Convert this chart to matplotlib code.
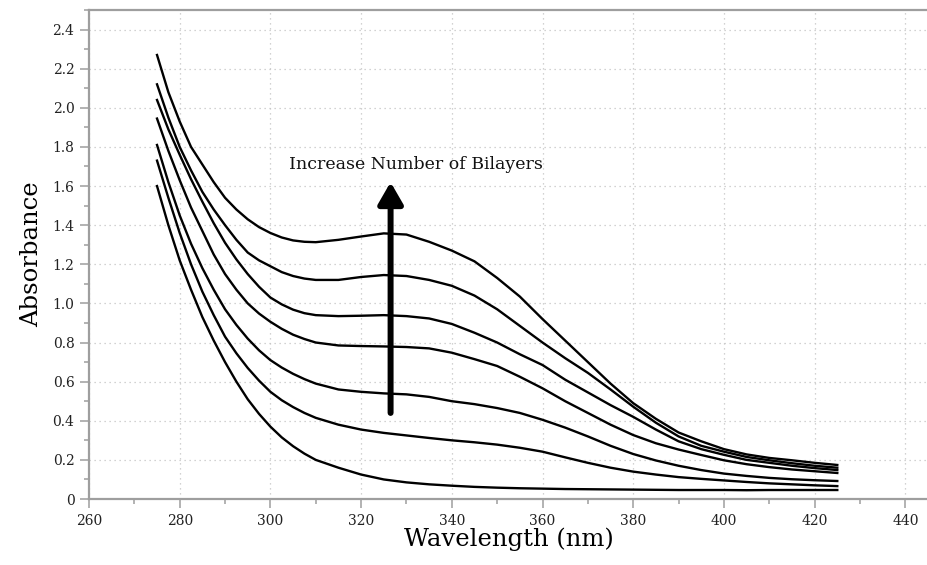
import matplotlib
matplotlib.use("Agg")
import matplotlib.pyplot as plt
from matplotlib.ticker import MultipleLocator, FuncFormatter

# absorbance spectra, one per bilayer count (1 -> 7)
# finer steps on the steep short-wavelength edge
wavelength = [275, 277.5, 280, 282.5, 285, 287.5, 290, 292.5, 295, 297.5, 300, 302.5, 305, 307.5, 310,
              315, 320, 325, 330, 335, 340, 345, 350, 355, 360, 365, 370, 375, 380, 385, 390,
              395, 400, 405, 410, 415, 420, 425]

abs_1 = [1.60, 1.40, 1.22, 1.07, 0.93, 0.81, 0.70, 0.60, 0.51, 0.435, 0.37, 0.315, 0.27, 0.232, 0.20,
         0.16, 0.125, 0.100, 0.085, 0.075, 0.068, 0.062, 0.058, 0.055, 0.053, 0.051, 0.050, 0.049, 0.048, 0.047, 0.046,
         0.046, 0.046, 0.045, 0.046, 0.046, 0.046, 0.046]
abs_2 = [1.73, 1.54, 1.36, 1.20, 1.06, 0.94, 0.83, 0.745, 0.67, 0.605, 0.548, 0.505, 0.47, 0.44, 0.415,
         0.38, 0.355, 0.338, 0.325, 0.312, 0.300, 0.290, 0.278, 0.262, 0.242, 0.213, 0.185, 0.160, 0.140, 0.125, 0.112,
         0.103, 0.095, 0.087, 0.080, 0.075, 0.070, 0.066]
abs_3 = [1.81, 1.62, 1.45, 1.305, 1.18, 1.07, 0.97, 0.89, 0.82, 0.76, 0.71, 0.672, 0.64, 0.613, 0.59,
         0.56, 0.548, 0.540, 0.535, 0.522, 0.500, 0.485, 0.465, 0.440, 0.405, 0.365, 0.320, 0.272, 0.230, 0.197, 0.170,
         0.148, 0.130, 0.118, 0.108, 0.101, 0.096, 0.092]
abs_4 = [1.945, 1.78, 1.63, 1.49, 1.37, 1.25, 1.15, 1.07, 1.00, 0.948, 0.906, 0.87, 0.84, 0.818, 0.80,
         0.785, 0.782, 0.780, 0.777, 0.770, 0.748, 0.715, 0.680, 0.625, 0.566, 0.500, 0.440, 0.380, 0.327, 0.285, 0.253,
         0.225, 0.198, 0.178, 0.163, 0.151, 0.142, 0.133]
abs_5 = [2.04, 1.89, 1.76, 1.635, 1.52, 1.41, 1.31, 1.225, 1.15, 1.085, 1.03, 0.995, 0.968, 0.95, 0.94,
         0.935, 0.937, 0.940, 0.935, 0.923, 0.895, 0.850, 0.800, 0.740, 0.685, 0.610, 0.545, 0.480, 0.420, 0.355, 0.295,
         0.255, 0.226, 0.200, 0.185, 0.170, 0.158, 0.148]
abs_6 = [2.12, 1.95, 1.80, 1.68, 1.57, 1.48, 1.40, 1.325, 1.26, 1.22, 1.19, 1.16, 1.14, 1.127, 1.12,
         1.12, 1.135, 1.145, 1.140, 1.120, 1.090, 1.040, 0.970, 0.885, 0.800, 0.720, 0.645, 0.560, 0.472, 0.390, 0.320,
         0.272, 0.242, 0.215, 0.198, 0.183, 0.170, 0.160]
abs_7 = [2.27, 2.08, 1.93, 1.80, 1.71, 1.62, 1.54, 1.48, 1.43, 1.39, 1.36, 1.337, 1.322, 1.315, 1.313,
         1.325, 1.342, 1.358, 1.352, 1.315, 1.270, 1.215, 1.130, 1.035, 0.920, 0.810, 0.700, 0.590, 0.490, 0.410, 0.340,
         0.295, 0.255, 0.228, 0.210, 0.198, 0.185, 0.174]

spectra = [abs_1, abs_2, abs_3, abs_4, abs_5, abs_6, abs_7]

plt.rcParams['font.family'] = ['DejaVu Serif']

fig = plt.figure(figsize=(9.28, 5.65), dpi=100)
ax = fig.add_axes([0.0959, 0.1168, 0.9041, 0.8655])

for s in spectra:
    ax.plot(wavelength, s, color='black', lw=1.7, solid_joinstyle='round')

# arrow showing the trend with more bilayers
ax.annotate('', xy=(326.5, 1.62), xytext=(326.5, 0.44),
            arrowprops=dict(arrowstyle='-|>,head_width=7.5,head_length=13', mutation_scale=1,
                            lw=4.3, color='black', shrinkA=0, shrinkB=0))
ax.text(332, 1.685, 'Increase Number of Bilayers', ha='center', va='baseline',
        fontsize=12.5, color='#111111')

ax.set_xlim(260, 445)
ax.set_ylim(0, 2.5)
ax.xaxis.set_major_locator(MultipleLocator(20))
ax.xaxis.set_minor_locator(MultipleLocator(10))
ax.yaxis.set_major_locator(MultipleLocator(0.2))
ax.yaxis.set_minor_locator(MultipleLocator(0.1))
ax.yaxis.set_major_formatter(FuncFormatter(lambda v, p: '0' if abs(v) < 1e-9 else f'{v:.1f}'))

ax.grid(True, which='major', color='#c4c4c4', linestyle=(0, (1, 3)), lw=0.9)
ax.set_axisbelow(True)

for side in ['left', 'bottom', 'top']:
    ax.spines[side].set_color('#9e9e9e')
    ax.spines[side].set_linewidth(1.6)
ax.spines['right'].set_visible(False)

ax.tick_params(which='major', direction='out', length=6.5, width=1.1, color='#9e9e9e',
               labelsize=10, labelcolor='#222222', pad=4)
ax.tick_params(which='minor', direction='out', length=3.5, width=1.1, color='#9e9e9e')

ax.set_xlabel('Wavelength (nm)', fontsize=17.5, labelpad=0)
ax.set_ylabel('Absorbance', fontsize=17.5, labelpad=7)

fig.savefig('out.png', dpi=100)
